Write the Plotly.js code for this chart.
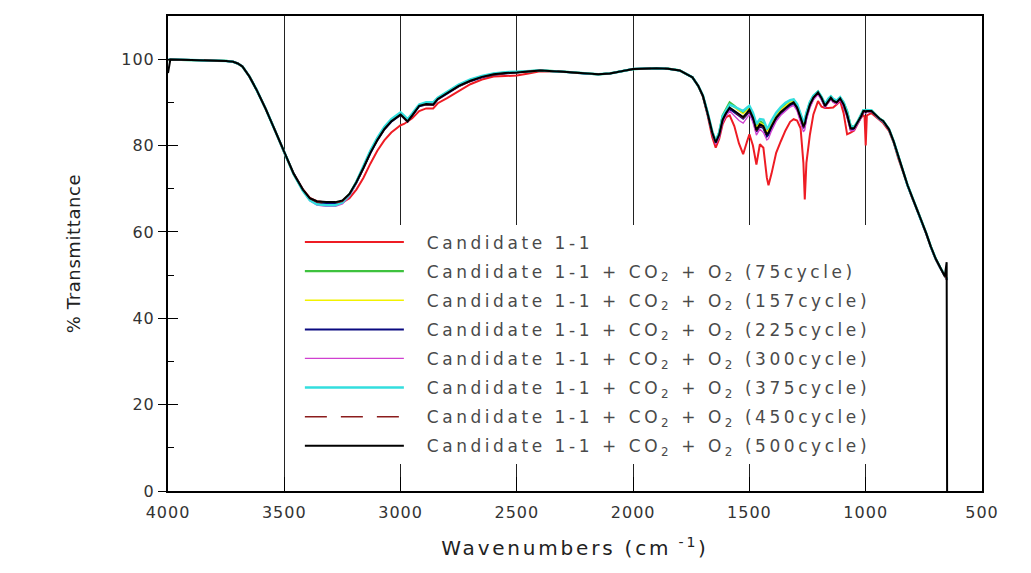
<!DOCTYPE html>
<html>
<head>
<meta charset="utf-8">
<script src="https://cdn.plot.ly/plotly-3.0.1.min.js"></script>
<style>
html,body{margin:0;padding:0;background:#fff;}
#chart{width:1031px;height:573px;}
text.legendtext{letter-spacing:3.55px;}
text.xtitle{letter-spacing:2.8px;}
text.ytitle{letter-spacing:0.6px;}
.xtick text,.ytick text{letter-spacing:1px;}
</style>
</head>
<body>
<div id="chart"></div>
<script>
// Wavenumbers (cm-1), shared by all spectra
var wavenumbers = [
  4000,3990,3900,3800,3750,3720,3700,3680,3650,3620,
  3580,3540,3500,3460,3420,3390,3360,3320,3280,3250,
  3220,3190,3160,3130,3100,3070,3040,3010,3000,2985,
  2970,2950,2920,2890,2860,2840,2800,2750,2700,2650,
  2600,2550,2500,2450,2400,2300,2200,2150,2100,2000,
  1900,1850,1800,1770,1745,1720,1700,1680,1660,1645,
  1630,1615,1600,1585,1565,1545,1527,1510,1500,1485,
  1470,1455,1440,1425,1418,1405,1385,1365,1345,1325,
  1310,1295,1280,1268,1262,1255,1240,1225,1205,1190,
  1175,1160,1150,1140,1125,1110,1095,1080,1065,1050,
  1035,1020,1010,1005,1000,995,975,960,940,925,
  900,880,860,840,820,800,780,760,740,720,
  700,680,660,652,650
];

var seriesNames = [
  'Candidate 1-1',
  'Candidate 1-1 + CO<sub>2</sub> + O<sub>2</sub> (75cycle)',
  'Candidate 1-1 + CO<sub>2</sub> + O<sub>2</sub> (157cycle)',
  'Candidate 1-1 + CO<sub>2</sub> + O<sub>2</sub> (225cycle)',
  'Candidate 1-1 + CO<sub>2</sub> + O<sub>2</sub> (300cycle)',
  'Candidate 1-1 + CO<sub>2</sub> + O<sub>2</sub> (375cycle)',
  'Candidate 1-1 + CO<sub>2</sub> + O<sub>2</sub> (450cycle)',
  'Candidate 1-1 + CO<sub>2</sub> + O<sub>2</sub> (500cycle)'
];

var tCandidate = [
  99.8,99.9,99.8,99.7,99.6,99.4,99.0,98.3,96.0,93.0,
  88.5,83.5,78.3,73.6,69.9,67.9,67.1,66.8,66.6,66.8,
  67.8,69.8,72.5,75.8,78.8,81.2,83.0,84.3,84.7,85.0,
  85.5,86.3,88.0,88.6,88.6,89.8,91.0,92.7,94.2,95.3,
  96.0,96.1,96.2,96.7,97.2,97.1,96.6,96.5,96.7,97.7,
  97.9,97.8,97.4,96.6,95.8,93.8,91.3,87.0,82.0,79.5,
  81.5,85.0,86.6,87.0,84.5,80.5,78.0,81.0,82.6,80.0,
  75.6,80.3,79.5,72.5,70.8,73.5,78.3,81.0,83.5,85.5,
  86.1,85.8,84.0,76.0,67.5,76.0,82.5,87.2,90.3,89.0,
  88.7,88.7,88.7,88.8,89.5,90.3,87.5,82.6,83.0,83.5,
  85.0,86.5,87.0,86.8,80.0,87.0,87.5,86.8,85.8,85.2,
  83.4,80.7,77.0,74.0,70.6,67.8,65.4,62.7,59.6,56.5,
  53.8,51.7,49.6,49.0,48.8
];
var t75 = [
  99.8,99.9,99.8,99.7,99.6,99.4,99.0,98.3,96.0,93.0,
  88.5,83.5,78.3,73.4,69.6,67.5,66.8,66.6,66.6,67.1,
  68.7,71.6,75.0,78.6,81.6,84.1,85.9,87.1,87.5,86.6,
  85.8,87.2,89.4,89.8,89.7,91.0,92.4,94.0,95.2,96.0,
  96.6,96.9,97.0,97.2,97.4,97.1,96.6,96.5,96.7,97.7,
  97.9,97.8,97.4,96.6,95.8,93.8,91.5,87.6,83.2,81.0,
  83.0,87.0,88.6,90.0,89.2,88.2,87.6,88.4,88.9,87.2,
  84.6,85.6,85.2,83.6,84.0,85.4,87.2,88.6,89.6,90.3,
  90.6,89.4,87.2,85.2,85.7,87.4,90.0,91.5,92.5,91.2,
  89.5,90.8,91.3,90.6,90.3,91.1,89.9,88.0,84.6,84.3,
  85.5,87.0,88.2,88.2,88.0,88.2,88.1,87.3,86.2,85.7,
  83.8,81.0,77.3,74.2,70.8,68.0,65.6,62.8,59.7,56.6,
  53.9,51.8,49.7,49.2,49.0
];
var t157 = [
  99.8,99.9,99.8,99.7,99.6,99.4,99.0,98.3,96.0,93.0,
  88.5,83.5,78.3,73.4,69.6,67.5,66.7,66.5,66.5,67.0,
  68.6,71.5,74.9,78.5,81.5,84.0,85.8,87.0,87.4,86.5,
  85.7,87.1,89.3,89.7,89.6,90.9,92.3,93.9,95.1,95.9,
  96.5,96.8,96.9,97.2,97.4,97.1,96.6,96.5,96.7,97.7,
  97.9,97.8,97.4,96.6,95.8,93.8,91.5,87.5,83.0,80.8,
  82.8,86.6,88.2,89.5,88.8,87.9,87.3,88.2,88.7,86.9,
  84.2,85.3,84.9,83.2,83.6,85.0,87.0,88.3,89.3,90.1,
  90.4,89.2,87.0,84.9,85.4,87.2,89.8,91.3,92.4,91.1,
  89.4,90.7,91.2,90.5,90.2,91.0,89.7,87.6,84.3,84.1,
  85.4,86.9,88.1,88.1,87.9,88.1,88.0,87.2,86.2,85.7,
  83.8,81.0,77.3,74.2,70.8,68.0,65.6,62.8,59.7,56.6,
  53.9,51.8,49.7,49.2,49.0
];
var t225 = [
  99.8,99.9,99.8,99.7,99.6,99.4,99.0,98.3,96.0,93.0,
  88.5,83.5,78.3,73.5,69.7,67.6,66.8,66.5,66.5,67.0,
  68.6,71.4,74.7,78.2,81.2,83.7,85.5,86.7,87.1,86.3,
  85.5,86.9,89.1,89.5,89.4,90.7,92.1,93.7,94.9,95.8,
  96.4,96.7,96.9,97.2,97.4,97.1,96.6,96.5,96.7,97.7,
  97.9,97.8,97.4,96.6,95.8,93.8,91.5,87.4,82.9,80.6,
  82.3,85.8,87.4,88.5,87.7,86.8,86.2,87.2,87.9,86.0,
  83.2,84.5,84.0,82.1,82.5,84.1,86.2,87.5,88.5,89.3,
  89.7,88.5,86.1,84.0,84.6,86.5,89.2,90.9,92.1,90.8,
  89.0,90.3,90.9,90.2,89.8,90.7,89.2,86.8,83.7,83.8,
  85.1,86.6,87.8,87.8,87.6,87.9,87.9,87.1,86.1,85.6,
  83.7,80.9,77.2,74.1,70.7,67.9,65.5,62.7,59.6,56.5,
  53.8,51.7,49.6,49.1,48.9
];
var t300 = [
  99.8,99.9,99.8,99.7,99.6,99.4,99.0,98.3,96.0,93.0,
  88.5,83.5,78.3,73.4,69.5,67.2,66.2,65.9,65.9,66.5,
  68.2,71.2,74.8,78.4,81.5,84.0,85.8,87.0,87.4,86.6,
  85.8,87.2,89.4,89.9,89.8,90.9,92.3,93.9,95.1,95.9,
  96.5,96.8,96.9,97.2,97.4,97.1,96.6,96.5,96.7,97.7,
  97.9,97.8,97.4,96.6,95.8,93.8,91.4,87.3,82.6,80.3,
  81.8,85.2,86.9,88.0,86.9,85.8,85.2,86.6,87.2,85.4,
  82.4,83.8,83.0,81.3,81.6,83.4,85.6,87.0,88.0,88.9,
  89.3,88.0,85.3,83.2,83.6,85.9,88.7,90.5,91.8,90.5,
  88.8,90.1,90.7,90.0,89.6,90.5,89.0,86.6,83.4,83.5,
  84.9,86.4,87.7,87.7,87.5,87.8,87.8,87.0,86.0,85.5,
  83.6,80.8,77.1,74.0,70.6,67.8,65.4,62.6,59.5,56.4,
  53.7,51.6,49.5,49.0,48.8
];
var t375 = [
  99.8,99.9,99.8,99.7,99.6,99.4,99.0,98.3,96.0,93.0,
  88.5,83.5,78.3,73.4,69.5,67.3,66.4,66.2,66.2,66.8,
  68.6,71.6,75.2,78.8,81.8,84.3,86.1,87.3,87.7,86.9,
  86.1,87.4,89.5,90.0,90.0,91.1,92.5,94.1,95.3,96.1,
  96.7,97.0,97.1,97.3,97.4,97.1,96.6,96.5,96.7,97.7,
  97.9,97.8,97.4,96.6,95.8,93.8,91.6,87.7,83.3,81.0,
  83.0,86.8,88.3,89.5,89.0,88.5,88.0,88.8,89.2,87.6,
  85.0,86.1,86.0,84.0,84.3,85.8,87.6,88.9,89.9,90.5,
  90.7,89.6,87.5,85.5,86.0,87.6,90.1,91.5,92.5,91.3,
  89.6,90.9,91.4,90.8,90.4,91.2,90.0,87.8,84.5,84.3,
  85.5,87.0,88.2,88.2,88.0,88.2,88.1,87.3,86.2,85.7,
  83.8,81.0,77.3,74.2,70.8,68.0,65.6,62.8,59.7,56.6,
  53.9,51.8,49.7,49.2,49.0
];
var t450 = [
  99.8,99.9,99.8,99.7,99.6,99.4,99.0,98.3,96.0,93.0,
  88.5,83.5,78.3,73.5,69.8,67.7,66.9,66.7,66.7,67.1,
  68.7,71.4,74.7,78.2,81.2,83.7,85.5,86.7,87.1,86.3,
  85.5,86.9,89.1,89.5,89.4,90.7,92.1,93.7,94.9,95.8,
  96.4,96.7,96.9,97.2,97.4,97.1,96.6,96.5,96.7,97.7,
  97.9,97.8,97.4,96.6,95.8,93.8,91.5,87.5,83.0,80.7,
  82.4,85.9,87.5,88.6,87.8,87.0,86.4,87.4,88.1,86.3,
  83.4,84.7,84.2,82.4,82.8,84.3,86.4,87.7,88.7,89.5,
  89.9,88.7,86.3,84.3,84.8,86.7,89.4,91.0,92.2,90.9,
  89.1,90.4,91.0,90.3,89.9,90.8,89.4,87.0,83.9,83.9,
  85.2,86.7,87.9,87.9,87.7,87.9,87.9,87.1,86.1,85.6,
  83.7,80.9,77.2,74.1,70.7,67.9,65.5,62.7,59.6,56.5,
  53.8,51.7,49.6,49.1,48.9
];
var t500 = [
  96.8,99.9,99.8,99.7,99.6,99.4,99.0,98.3,96.0,93.0,
  88.5,83.5,78.3,73.5,69.8,67.8,67.1,66.9,66.9,67.3,
  68.8,71.5,74.8,78.3,81.3,83.8,85.6,86.8,87.2,86.4,
  85.6,87.0,89.2,89.6,89.5,90.8,92.2,93.8,95.0,95.9,
  96.5,96.8,96.9,97.2,97.4,97.1,96.6,96.5,96.7,97.7,
  97.9,97.8,97.4,96.6,95.8,93.8,91.5,87.5,83.0,80.7,
  82.5,86.0,87.6,88.8,88.0,87.2,86.6,87.6,88.3,86.5,
  83.6,84.9,84.5,82.6,83.0,84.5,86.5,87.8,88.8,89.6,
  90.0,88.8,86.5,84.5,85.0,86.8,89.5,91.1,92.3,91.0,
  89.2,90.5,91.1,90.4,90.0,90.9,89.5,87.2,84.0,84.0,
  85.3,86.8,88.0,88.0,87.8,88.0,88.0,87.2,86.2,85.7,
  83.8,81.0,77.3,74.2,70.8,68.0,65.6,62.8,59.7,56.6,
  53.9,51.8,49.7,53.0,0
];

var seriesValues = [tCandidate, t75, t157, t225, t300, t375, t450, t500];
var seriesColors = ['#ee1c24', '#3ec23e', '#f2f200', '#0a0a80', '#d040d0', '#33dede', '#8b1c1c', '#000000'];
var seriesWidths = [2, 2.2, 1.3, 2, 1.3, 2.5, 1.5, 2];
var seriesDash = ['solid', 'solid', 'solid', 'solid', 'solid', 'solid', '22px,14px', 'solid'];

var xTicks = [4000, 3500, 3000, 2500, 2000, 1500, 1000, 500];
var yTicks = [0, 20, 40, 60, 80, 100];

var NB = '\u00A0\u00A0';

var traces = seriesNames.map(function (name, i) {
  return {
    type: 'scatter',
    mode: 'lines',
    name: NB + name,
    legendgroup: 'g' + i,
    x: wavenumbers,
    y: seriesValues[i],
    // the last spectrum is drawn on the overlaying y axis (identical range) so it sits on top
    yaxis: i === seriesNames.length - 1 ? 'y2' : 'y',
    line: { color: seriesColors[i], width: seriesWidths[i], dash: seriesDash[i] },
    hoverinfo: 'skip'
  };
});

var fontFam = '"DejaVu Sans", Arial, sans-serif';

var layout = {
  width: 1031,
  height: 573,
  margin: { l: 168, r: 49, t: 16, b: 82 },
  paper_bgcolor: '#ffffff',
  plot_bgcolor: '#ffffff',
  showlegend: true,
  legend: {
    x: 0.162, xanchor: 'left',
    y: 0.561, yanchor: 'top',
    bgcolor: '#ffffff',
    borderwidth: 0,
    itemwidth: 99,
    tracegroupgap: 4,
    font: { family: fontFam, size: 17, color: '#4a4a4a' },
    traceorder: 'grouped'
  },
  xaxis: {
    range: [4000, 500],
    tickvals: xTicks,
    ticktext: xTicks.map(String),
    ticks: 'inside',
    ticklen: 14,
    tickwidth: 1,
    tickcolor: '#000',
    showline: true,
    linewidth: 2,
    linecolor: '#000',
    mirror: true,
    showgrid: true,
    gridcolor: '#222222',
    gridwidth: 1,
    zeroline: false,
    ticklabelstandoff: 6,
    automargin: true,
    tickfont: { family: fontFam, size: 16, color: '#333' },
    title: { text: 'Wavenumbers (cm<sup> -1</sup>)', standoff: 20, font: { family: fontFam, size: 20, color: '#222' } }
  },
  yaxis: {
    range: [0, 110],
    tickvals: yTicks,
    ticktext: yTicks.map(String),
    ticks: 'outside',
    ticklen: 8,
    tickwidth: 1,
    tickcolor: '#000',
    showline: true,
    linewidth: 2,
    linecolor: '#000',
    mirror: true,
    showgrid: false,
    zeroline: false,
    automargin: true,
    tickfont: { family: fontFam, size: 16, color: '#333' },
    title: { text: '% Transmittance', standoff: 36, font: { family: fontFam, size: 18, color: '#222' } }
  },
  yaxis2: {
    overlaying: 'y',
    anchor: 'x',
    side: 'left',
    range: [0, 110],
    tickvals: yTicks,
    ticks: 'inside',
    ticklen: 10,
    tickwidth: 1,
    tickcolor: '#000',
    showticklabels: false,
    showline: false,
    showgrid: false,
    zeroline: false,
    minor: { ticks: 'inside', ticklen: 6, tickwidth: 1, tickcolor: '#000', dtick: 10, tick0: 0 }
  }
};

Plotly.newPlot('chart', traces, layout, { displayModeBar: false, staticPlot: true });
</script>
</body>
</html>
